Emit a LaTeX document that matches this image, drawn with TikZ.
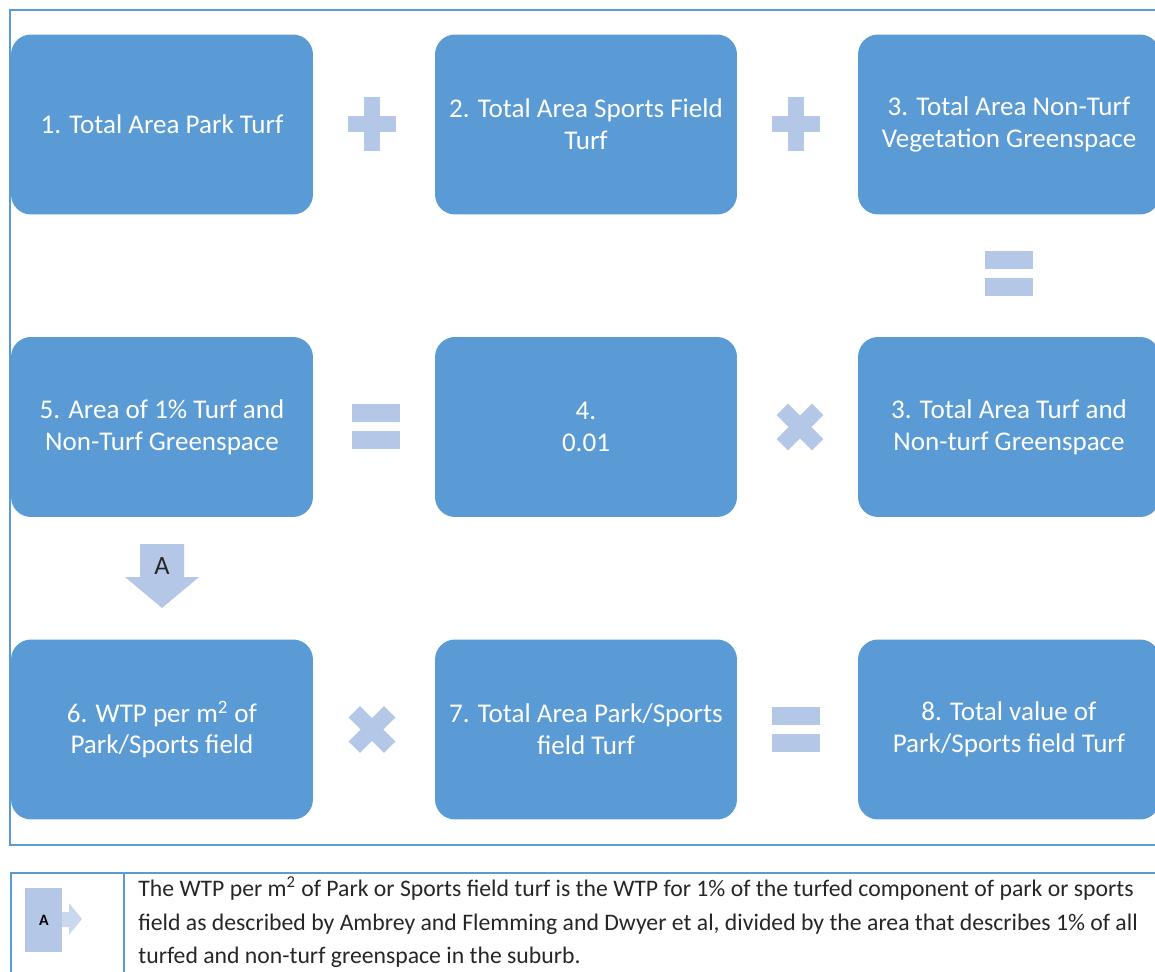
\documentclass[tikz,border=0pt]{standalone}
\usepackage{fontspec}
\setmainfont{Carlito}
\definecolor{boxblue}{HTML}{5B9BD5}
\definecolor{opblue}{HTML}{B4C7E7}
\definecolor{arrowpale}{HTML}{C9D8EE}
\definecolor{notegray}{HTML}{262626}
\begin{document}
\begin{tikzpicture}[
  x=0.02cm, y=-0.02cm,
  stepbox/.style={rectangle, rounded corners=0.4cm, fill=boxblue, text=white,
    minimum width=6.04cm, minimum height=3.6cm, align=center, inner sep=0pt,
    font=\fontsize{15.4}{18}\selectfont},
  frameline/.style={draw=boxblue, line width=1.1pt},
  plussign/.pic={\fill[opblue] (-24,-8) rectangle (24,8); \fill[opblue] (-8,-27) rectangle (8,27);},
  eqsign/.pic={\fill[opblue] (-24,-22.5) rectangle (24,-4.5); \fill[opblue] (-24,4.5) rectangle (24,22.5);},
  timessign/.pic={\fill[opblue, rotate=45] (-25,-8) rectangle (25,8); \fill[opblue, rotate=-45] (-25,-8) rectangle (25,8);}
]
  \useasboundingbox (0,0) rectangle (1155,972);

  % Outer frame
  \draw[frameline] (10,10) rectangle (1180,845);

  % Row 1
  \node[stepbox] (parkturf)   at (162,124.5)  {1. Total Area Park Turf};
  \node[stepbox] (sportsturf) at (586,124.5)  {2. Total Area Sports Field\\Turf};
  \node[stepbox] (nonturf)    at (1009,124.5) {3. Total Area Non-Turf\\Vegetation Greenspace};

  % Row 2
  \node[stepbox] (onepct)     at (162,427)  {5. Area of 1\% Turf and\\Non-Turf Greenspace};
  \node[stepbox] (factor)     at (586,427)  {4.\\0.01};
  \node[stepbox] (totalgreen) at (1009,427) {3. Total Area Turf and\\Non-turf Greenspace};

  % Row 3
  \node[stepbox] (wtp)        at (162,729.5)  {6. WTP per m\textsuperscript{2} of\\Park/Sports field};
  \node[stepbox] (totalturf)  at (586,729.5)  {7. Total Area Park/Sports\\field Turf};
  \node[stepbox] (totalvalue) at (1009,729.5) {8. Total value of\\Park/Sports field Turf};

  % Operators
  \pic at (372,124.5) {plussign};
  \pic at (796,124.5) {plussign};
  \pic at (1009,273.5) {eqsign};
  \pic at (376,427) {eqsign};
  \pic at (800,427) {timessign};
  \pic at (372,729.5) {timessign};
  \pic at (796,729.5) {eqsign};

  % Arrow A
  \fill[opblue] (140,544) -- (184,544) -- (184,577) -- (199,577) -- (162,608)
    -- (125,577) -- (140,577) -- cycle;
  \node[text=notegray, font=\fontsize{15}{18}\selectfont] (arrowlabel) at (162,566) {A};

  % Note table
  \draw[frameline] (11,873) rectangle (1180,1000);
  \draw[frameline] (124,873) -- (124,1000);
  \fill[opblue] (25,888) rectangle (62,952);
  \fill[arrowpale] (62,912) -- (69,912) -- (69,903) -- (82,919) -- (69,935)
    -- (69,927) -- (62,927) -- cycle;
  \node[text=black, font=\bfseries\fontsize{9}{10}\selectfont] (iconlabel) at (44,920) {A};
  \node[anchor=base west, align=left, inner sep=0pt, text=notegray,
    font=\fontsize{13.5}{19}\selectfont] (note) at (138,963.5)
    {The WTP per m\textsuperscript{2} of Park or Sports field turf is the WTP for 1\% of the turfed component of park or sports\\
     field as described by Ambrey and Flemming and Dwyer et al, divided by the area that describes 1\% of all\\
     turfed and non-turf greenspace in the suburb.};
\end{tikzpicture}
\end{document}
